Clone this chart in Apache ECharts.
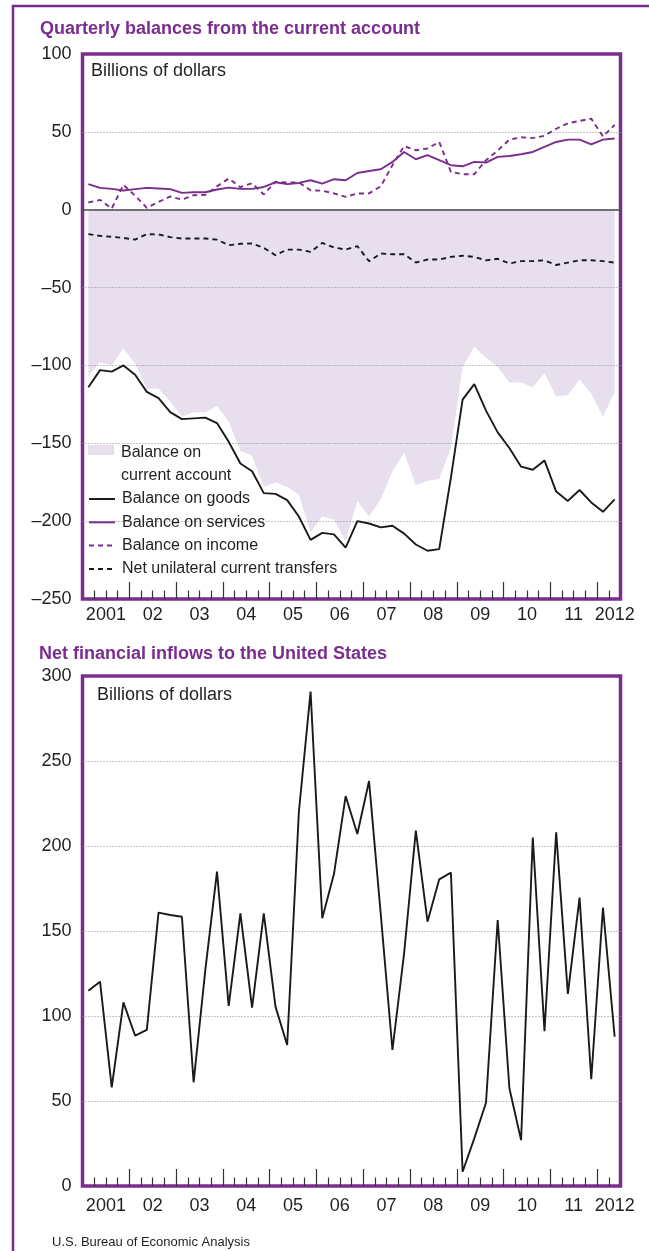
<!DOCTYPE html>
<html>
<head>
<meta charset="utf-8">
<title>Current account balances and net financial inflows</title>
<script src="https://cdn.jsdelivr.net/npm/echarts@6/dist/echarts.min.js"></script>
<style>
  html, body { margin: 0; padding: 0; background: #fff; }
  #chart { width: 649px; height: 1251px; }
</style>
</head>
<body>
<div id="chart"></div>
<script>
// quarterly data, 2001 Q1 .. 2012 Q2 (billions of dollars)
const years = ["2001", "02", "03", "04", "05", "06", "07", "08", "09", "10", "11", "2012"];
const quarters = [];
years.forEach((y, k) => {
  for (let q = 1; q <= 4; q++) {
    if (k === years.length - 1 && q > 2) break;
    quarters.push((2001 + k) + " Q" + q);
  }
});

const currentAccount = [-107, -98, -100, -89, -99, -115, -115, -123, -133, -130, -130, -126,
  -136, -155, -158, -178, -175, -178, -183, -207, -197, -199, -213, -187, -197, -186, -168,
  -156, -177, -174, -173, -153, -101, -88, -95, -101, -111, -111, -114, -105, -120, -119,
  -109, -118, -133, -117];
const goods = [-114, -103, -104, -100, -106, -117, -121, -130, -134.5, -134, -133.5, -137,
  -149, -163, -168, -182, -182.5, -186.5, -197, -212, -207.5, -208.5, -217, -200, -201.5,
  -204, -203, -208, -215, -219, -218, -172, -122, -112, -129, -143, -153, -165, -167, -161,
  -181, -187, -180, -188, -194, -186];
const services = [16.4, 14, 13.4, 12.3, 13.2, 14, 13.6, 13.2, 10.8, 11.2, 11.2, 13, 14.2,
  13.4, 13.4, 14.6, 17.6, 16.4, 17.2, 18.9, 16.8, 19.6, 18.9, 23.6, 24.9, 26, 30.7, 37.1,
  32.4, 35, 31.8, 28.6, 27.9, 30.7, 30.3, 33.9, 34.5, 35.6, 37.1, 40.3, 43.5, 45, 45, 42,
  45, 45.7];
const income = [4.6, 6.3, 0.8, 16, 9, 1.2, 5, 8.5, 6.5, 9.3, 9.5, 15, 20, 14.5, 17, 9.8, 18,
  17.5, 17.5, 12.5, 12.2, 10.5, 8.3, 10.4, 10.5, 15, 28.6, 40.8, 38.2, 39.3, 43.5, 24.3,
  22.8, 22.8, 31.8, 38, 45, 46.5, 46, 47.5, 52, 55.5, 57, 58.5, 47, 54.5];
const transfers = [-15.7, -16.8, -17.4, -18.1, -19.2, -15.7, -15.9, -17.6, -18.5, -18.5,
  -18.5, -19.2, -22.8, -21.9, -21.7, -24.5, -29.2, -25.6, -25.6, -27.1, -21.3, -24.3, -25.6,
  -23.4, -33.1, -28.1, -28.6, -28.6, -33.9, -32, -32, -30.3, -29.6, -30.3, -32.5, -31.5,
  -34.5, -33, -33, -32.5, -35.5, -34, -32.5, -32.5, -33, -34];
const inflows = [114.9, 120.2, 58, 108, 88.4, 91.8, 160.8, 159.4, 158.4, 61, 127, 184.9,
  105.9, 160.4, 104.9, 160.4, 105.5, 82.9, 220, 290.8, 157.5, 183.5, 229.4, 207.1, 238.2,
  160, 80, 137, 209, 155.5, 180.4, 184.3, 8.4, 28, 49, 156.5, 57.5, 27, 205, 91, 208, 113,
  169.6, 62.8, 163.7, 87.8];

const purple = "#7b2c8f";
const lavender = "#e7dfed";
const ink = "#231f20";
const font = "'Liberation Sans', Arial, Helvetica, sans-serif";

const n = quarters.length;
const idx = quarters.map((q, i) => i);
const minorTicks = idx.filter(i => i > 0 && i % 4 !== 0);
const majorTicks = idx.filter(i => i > 0 && i % 4 === 0);
const yearPos = years.map((y, k) => Math.min(4 * k + 2, n - 0.5));

const tickLine = { color: "#333", width: 1.2 };
const dotted = { color: "#8c8c8c", width: 1, type: [1, 2] };

function seriesAxis(gridIndex, showZero) {
  return {
    type: "category", gridIndex, data: quarters, boundaryGap: true, position: "bottom", z: 1.6,
    axisLine: { show: showZero, onZero: true, lineStyle: { color: "#4d4d4d", width: 1.6 } },
    axisTick: { show: false }, axisLabel: { show: false }, splitLine: { show: false }
  };
}
function tickAxes(gridIndex, margin) {
  return [
    {
      type: "value", gridIndex, min: 0, max: n, position: "bottom",
      axisLine: { show: false }, splitLine: { show: false },
      axisTick: { show: true, inside: true, length: 8.5, customValues: minorTicks, lineStyle: tickLine },
      axisLabel: {
        show: true, customValues: yearPos, margin, color: ink, fontSize: 18, fontFamily: font,
        formatter: v => years[yearPos.indexOf(v)]
      }
    },
    {
      type: "value", gridIndex, min: 0, max: n, position: "bottom",
      axisLine: { show: false }, splitLine: { show: false },
      axisTick: { show: true, inside: true, length: 17, customValues: majorTicks, lineStyle: tickLine },
      axisLabel: { show: false }
    }
  ];
}
function valueAxis(gridIndex, min, max) {
  return {
    type: "value", gridIndex, min, max, interval: 50, z: 1.5,
    axisLine: { show: false }, axisTick: { show: false },
    axisLabel: {
      color: ink, fontSize: 18, fontFamily: font, margin: 11,
      formatter: v => String(v).replace("-", "\u2013")
    },
    splitLine: { show: true, showMinLine: false, showMaxLine: false, lineStyle: dotted }
  };
}
function line(name, data, color, dashed, xAxisIndex, yAxisIndex) {
  return {
    name, type: "line", data, xAxisIndex, yAxisIndex, symbol: "none", z: 2,
    color, lineStyle: { color, width: 1.9, type: dashed ? [5, 4] : "solid" }
  };
}

const chart = echarts.init(document.getElementById("chart"), null, { renderer: "canvas" });
chart.setOption({
  animation: false,
  backgroundColor: "#fff",
  textStyle: { fontFamily: font },
  title: [
    { text: "Quarterly balances from the current account", left: 40, top: 20, padding: 0,
      textStyle: { color: purple, fontSize: 18, fontWeight: "bold", fontFamily: font } },
    { text: "Billions of dollars", left: 91, top: 62, padding: 0,
      textStyle: { color: ink, fontSize: 18, fontWeight: "normal", fontFamily: font } },
    { text: "Net financial inflows to the United States", left: 39, top: 645, padding: 0,
      textStyle: { color: purple, fontSize: 18, fontWeight: "bold", fontFamily: font } },
    { text: "Billions of dollars", left: 97, top: 686, padding: 0,
      textStyle: { color: ink, fontSize: 18, fontWeight: "normal", fontFamily: font } },
    { text: "U.S. Bureau of Economic Analysis", left: 52, top: 1236, padding: 0,
      textStyle: { color: ink, fontSize: 13, fontWeight: "normal", fontFamily: font } }
  ],
  graphic: [{
    type: "polyline", silent: true,
    shape: { points: [[13, 1251], [13, 6], [649, 6]] },
    style: { stroke: purple, lineWidth: 2.5, fill: null }
  }],
  grid: [
    { left: 82.5, top: 54, width: 538, height: 545, show: true, borderColor: purple, borderWidth: 3.5, backgroundColor: "transparent" },
    { left: 82.5, top: 676, width: 538, height: 510, show: true, borderColor: purple, borderWidth: 3.5, backgroundColor: "transparent" }
  ],
  xAxis: [seriesAxis(0, true), ...tickAxes(0, 7), seriesAxis(1, false), ...tickAxes(1, 11)],
  yAxis: [valueAxis(0, -250, 100), valueAxis(1, 0, 300)],
  legend: [
    {
      left: 88, top: 419, padding: 0, itemWidth: 26, itemHeight: 10, selectedMode: false,
      data: [{ name: "Balance on current account", icon: "rect" }],
      formatter: () => "{p| }\n{a|Balance on}\n{a|current account}",
      textStyle: {
        color: ink, fontSize: 16, fontFamily: font,
        rich: {
          p: { fontSize: 16, lineHeight: 29, fontFamily: font },
          a: { fontSize: 16, lineHeight: 23, color: ink, fontFamily: font, padding: [0, 0, 0, 2] }
        }
      }
    },
    {
      left: 88, top: 491, padding: 0, orient: "vertical", itemWidth: 26, itemHeight: 10, itemGap: 7.3,
      selectedMode: false, itemStyle: { opacity: 0 },
      data: ["Balance on goods", "Balance on services", "Balance on income", "Net unilateral current transfers"],
      textStyle: { color: ink, fontSize: 16, fontFamily: font, lineHeight: 16, padding: [0, 0, 0, 2] }
    }
  ],
  series: [
    {
      name: "Balance on current account", type: "line", data: currentAccount,
      xAxisIndex: 0, yAxisIndex: 0, symbol: "none", z: 1, silent: true,
      color: lavender, itemStyle: { color: lavender },
      lineStyle: { width: 0, color: lavender },
      areaStyle: { color: lavender, opacity: 1 }
    },
    line("Balance on goods", goods, "#1a1a1a", false, 0, 0),
    line("Balance on services", services, purple, false, 0, 0),
    line("Balance on income", income, purple, true, 0, 0),
    line("Net unilateral current transfers", transfers, "#1a1a1a", true, 0, 0),
    line("Net financial inflows", inflows, "#1a1a1a", false, 3, 1)
  ]
});
</script>
</body>
</html>
